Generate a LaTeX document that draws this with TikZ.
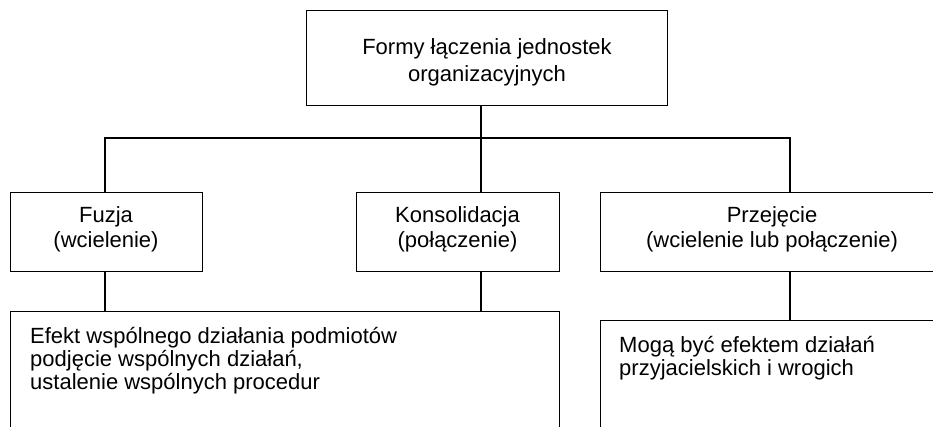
\documentclass[tikz,border=0pt]{standalone}
\usepackage{fontspec}
\setmainfont{Liberation Sans}
\begin{document}
\begin{tikzpicture}[x=1pt,y=-1pt,
  box/.style={draw=black,line width=1.4pt,fill=none,inner sep=0pt,anchor=north west},
  wire/.style={draw=black,line width=1.4pt},
  lbl/.style={inner sep=0pt,anchor=base,align=center,font=\fontsize{22}{25}\selectfont},
  lbll/.style={inner sep=0pt,anchor=base west,align=left,font=\fontsize{22}{23}\selectfont}]
\useasboundingbox (0,0) rectangle (933,427);
\clip (0,0) rectangle (933,427);
% boxes
\node[box,minimum width=361pt,minimum height=95pt] (top) at (306,10) {};
\node[box,minimum width=192pt,minimum height=79pt] (fuz) at (10,192) {};
\node[box,minimum width=203pt,minimum height=79pt] (kon) at (356,192) {};
\node[box,minimum width=344pt,minimum height=79pt] (prz) at (600,192) {};
\node[box,minimum width=549pt,minimum height=140pt] (efk) at (10,311) {};
\node[box,minimum width=360pt,minimum height=140pt] (mog) at (600,320) {};
% texts
\node[lbl,font=\fontsize{22}{27}\selectfont] (ttop) at (487,82) {Formy łączenia jednostek\\organizacyjnych};
\node[lbl] (tfuz) at (106,248) {Fuzja\\(wcielenie)};
\node[lbl] (tkon) at (457.5,248) {Konsolidacja\\(połączenie)};
\node[lbl] (tprz) at (772,248) {Przejęcie\\(wcielenie lub połączenie)};
\node[lbll] (tefk) at (30,389) {Efekt wspólnego działania podmiotów\\podjęcie wspólnych działań,\\ustalenie wspólnych procedur};
\node[lbll] (tmog) at (619,375) {Mogą być efektem działań\\przyjacielskich i wrogich};
% connectors
\coordinate (hl) at (105,138);
\coordinate (hr) at (790,138);
\coordinate (hm) at (481,138);
\draw[wire] (fuz.north -| hl) -- (hl) -- (hr) -- (prz.north -| hr);
\draw[wire] (top.south -| hm) -- (kon.north -| hm);
\draw[wire] (fuz.south -| hl) -- (efk.north -| hl);
\draw[wire] (kon.south -| hm) -- (efk.north -| hm);
\draw[wire] (prz.south -| hr) -- (mog.north -| hr);
\end{tikzpicture}
\end{document}
